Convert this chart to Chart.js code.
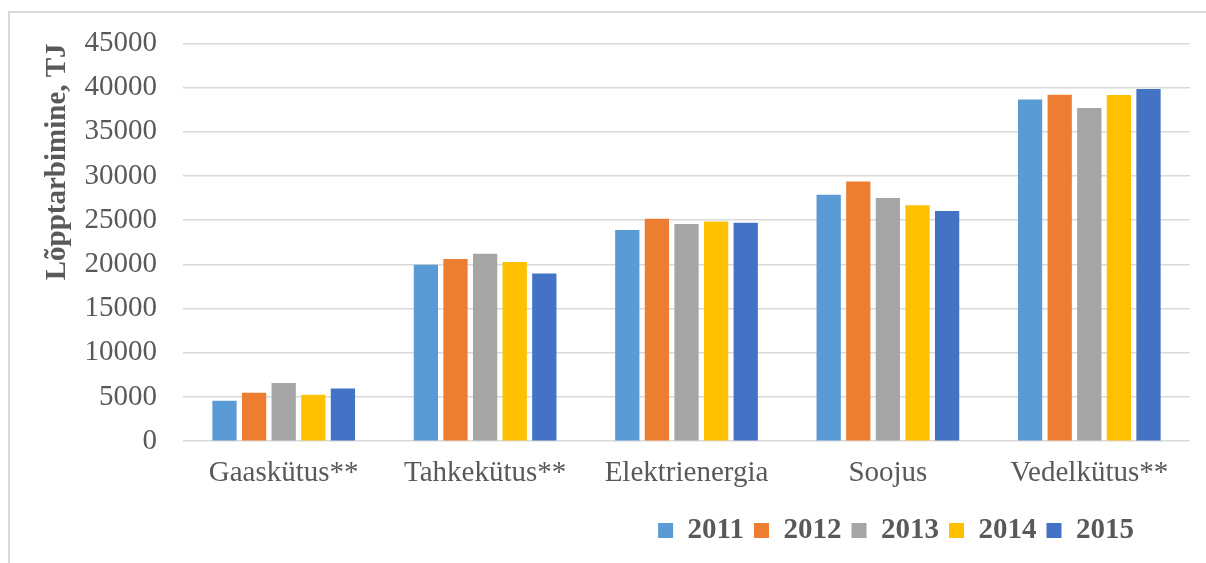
<!DOCTYPE html>
<html>
<head>
<meta charset="utf-8">
<script src="https://cdn.jsdelivr.net/npm/chart.js@4"></script>
<style>
  html, body { margin: 0; padding: 0; background: #fff; }
  #wrap { position: relative; width: 1206px; height: 563px; }
  #frame { position: absolute; left: 8px; top: 11px; right: 0; bottom: 0;
           border-top: 2px solid #d9d9d9; border-left: 2px solid #d9d9d9; }
  #chart { position: absolute; left: 0; top: 0; }
</style>
</head>
<body>
<div id="wrap">
  <div id="frame"></div>
  <canvas id="chart" width="1206" height="563"></canvas>
</div>
<script>
// categories and values (TJ)
const categories = ['Gaaskütus**', 'Tahkekütus**', 'Elektrienergia', 'Soojus', 'Vedelkütus**'];
const years = ['2011', '2012', '2013', '2014', '2015'];
const v2011 = [4570, 19950, 23890, 27890, 38660];
const v2012 = [5480, 20600, 25170, 29370, 39190];
const v2013 = [6580, 21200, 24570, 27520, 37680];
const v2014 = [5250, 20260, 24860, 26680, 39150];
const v2015 = [5970, 18970, 24720, 26040, 39830];
const colors = ['#5B9BD5', '#ED7D31', '#A5A5A5', '#FFC000', '#4472C4'];
const yTitle = 'Lõpptarbimine, TJ';

const series = [v2011, v2012, v2013, v2014, v2015];
const textColor = '#595959';
const serif = "'Liberation Serif', 'Times New Roman', serif";

// shift the legend to the right place (Excel puts it bottom right, not flush)
const legendShift = {
    id: 'legendShift',
    afterLayout(chart) {
        chart.legend.right = chart.chartArea.right - 46;
    }
};

new Chart(document.getElementById('chart').getContext('2d'), {
    type: 'bar',
    data: {
        labels: categories,
        datasets: years.map((y, i) => ({
            label: y,
            data: series[i],
            backgroundColor: colors[i],
            borderWidth: 0,
            categoryPercentage: 0.735,
            barPercentage: 0.82
        }))
    },
    options: {
        responsive: false,
        animation: false,
        layout: { padding: { left: 31, right: 16, top: 26, bottom: 8 } },
        plugins: {
            legend: {
                position: 'bottom',
                align: 'end',
                labels: {
                    boxWidth: 15,
                    boxHeight: 15,
                    padding: 10,
                    color: textColor,
                    font: { family: serif, size: 29, weight: 'bold' }
                }
            },
            tooltip: { enabled: false }
        },
        scales: {
            x: {
                grid: { display: false, drawTicks: false },
                border: { display: false },
                ticks: {
                    color: textColor,
                    padding: 15,
                    font: { family: serif, size: 29 }
                }
            },
            y: {
                min: 0,
                max: 45000,
                afterFit(scale) { scale.width = 152; },
                grid: { color: '#d9d9d9', lineWidth: 1.5, drawTicks: false },
                border: { display: false },
                ticks: {
                    stepSize: 5000,
                    padding: 26,
                    color: textColor,
                    font: { family: serif, size: 29 },
                    callback: (v) => String(v)
                },
                title: {
                    display: true,
                    text: yTitle,
                    align: 'end',
                    color: textColor,
                    padding: { top: 9, bottom: 9 },
                    font: { family: serif, size: 29, weight: 'bold' }
                }
            }
        }
    },
    plugins: [legendShift]
});
</script>
</body>
</html>
